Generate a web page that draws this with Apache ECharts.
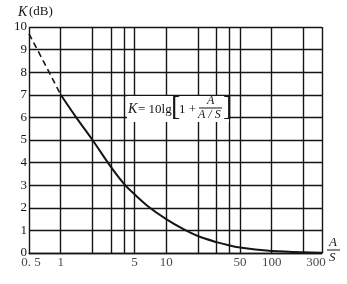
<!DOCTYPE html>
<html>
<head>
<meta charset="utf-8">
<script src="https://cdn.jsdelivr.net/npm/echarts@6/dist/echarts.min.js"></script>
<style>html,body{margin:0;padding:0;background:#fff}#c{width:347px;height:284px}</style>
</head>
<body>
<div id="c"></div>
<script>
// dashed part of curve (A/S, K dB)
const dashX = [0.5, 0.7, 1];
const dashK = [9.7, 8.4, 7.0];
// solid part of curve
const solidX = [1, 1.4, 2, 3, 4, 5, 7, 10, 14, 20, 30, 40, 50, 70, 100, 200, 300];
const solidK = [7.0, 6.0, 5.0, 3.8, 3.05, 2.6, 2.0, 1.5, 1.1, 0.75, 0.48, 0.33, 0.24, 0.15, 0.09, 0.03, 0.01];
// vertical grid lines on A/S axis
const gridX = [0.5, 1, 2, 3, 4, 5, 10, 20, 30, 40, 50, 100, 200, 300];
// labelled ticks
const tickX = [0.5, 1, 5, 10, 50, 100, 300];
const tickLabels = ['0. 5', '1', '5', '10', '50', '100', '300'];

const FONT = 'Liberation Serif';
const INK = '#151515';
const chart = echarts.init(document.getElementById('c'), null, {renderer: 'canvas'});
chart.setOption({
  animation: false,
  backgroundColor: '#fff',
  grid: {left: 29, right: 25, top: 27, bottom: 31},
  xAxis: {
    type: 'log', logBase: 10, min: 0.5, max: 300,
    axisLine: {show: true, lineStyle: {color: INK, width: 1.4}},
    axisTick: {show: false}, axisLabel: {show: false}, splitLine: {show: false}
  },
  yAxis: {
    type: 'value', min: 0, max: 10, interval: 1,
    axisLine: {show: false}, axisTick: {show: false},
    axisLabel: {color: INK, fontFamily: FONT, fontSize: 13, margin: 2},
    splitLine: {show: true, lineStyle: {color: INK, width: 1.4}}
  },
  series: [
    {
      type: 'line', data: dashX.map((x, i) => [x, dashK[i]]),
      showSymbol: false, smooth: false,
      lineStyle: {color: INK, width: 1.6, type: [6, 4]}
    },
    {
      type: 'line', data: solidX.map((x, i) => [x, solidK[i]]),
      showSymbol: false, smooth: 0.35,
      lineStyle: {color: INK, width: 2},
      markLine: {
        silent: true, symbol: ['none', 'none'], label: {show: false},
        lineStyle: {color: INK, width: 1.4, type: 'solid'},
        data: gridX.map(v => ({xAxis: v}))
      }
    },
    {
      type: 'scatter', symbolSize: 0, silent: true,
      data: tickX.map((v, i) => ({
        value: [v, 0],
        label: i === tickX.length - 1 ? {offset: [-6, 0]} : (i === 0 ? {offset: [2, 0]} : {})
      })),
      label: {
        show: true, position: 'bottom', distance: 3,
        color: INK, fontFamily: FONT, fontSize: 13,
        formatter: p => tickLabels[p.dataIndex]
      }
    }
  ],
  graphic: [
    {type: 'rect', shape: {x: 127, y: 96, width: 102, height: 26}, style: {fill: '#fff'}, z: 50},
    {type: 'text', x: 128, y: 102, z: 60, style: {text: 'K', font: 'italic 14px ' + FONT, fill: INK}},
    {type: 'text', x: 138, y: 103, z: 60, style: {text: '= 10lg', font: '13px ' + FONT, fill: INK}},
    {type: 'text', x: 171, y: 94, z: 60, style: {text: '[', font: '28px ' + FONT, fill: INK}},
    {type: 'text', x: 179, y: 103, z: 60, style: {text: '1 +', font: '13px ' + FONT, fill: INK}},
    {type: 'text', x: 207, y: 95, z: 60, style: {text: 'A', font: 'italic 12px ' + FONT, fill: INK}},
    {type: 'line', z: 60, shape: {x1: 199, y1: 108, x2: 222, y2: 108}, style: {stroke: INK, lineWidth: 1}},
    {type: 'text', x: 198, y: 109, z: 60, style: {text: 'A / S', font: 'italic 12px ' + FONT, fill: INK}},
    {type: 'text', x: 223, y: 94, z: 60, style: {text: ']', font: '28px ' + FONT, fill: INK}},
    {type: 'text', x: 18, y: 5, style: {text: 'K', font: 'italic 14px ' + FONT, fill: INK}},
    {type: 'text', x: 29, y: 5, style: {text: '(dB)', font: '13px ' + FONT, fill: INK}},
    {type: 'text', x: 329, y: 236, style: {text: 'A', font: 'italic 13px ' + FONT, fill: INK}},
    {type: 'line', shape: {x1: 327, y1: 250, x2: 340, y2: 250}, style: {stroke: INK, lineWidth: 1}},
    {type: 'text', x: 329, y: 251, style: {text: 'S', font: 'italic 13px ' + FONT, fill: INK}}
  ]
});
</script>
</body>
</html>
